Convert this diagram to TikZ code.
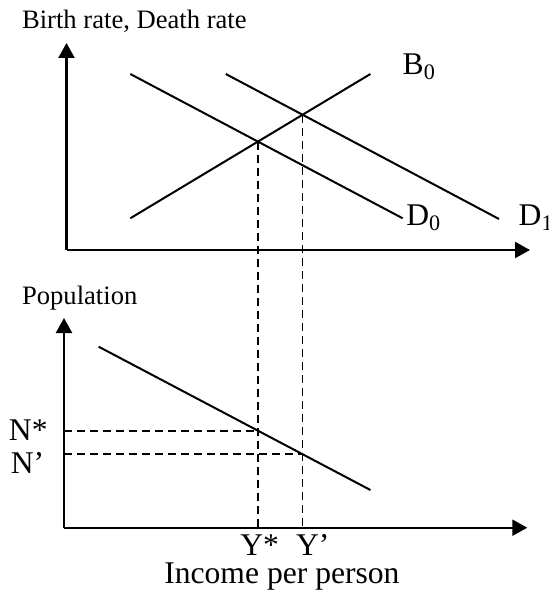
\documentclass[tikz,border=0pt]{standalone}
\usepackage{fontspec}
\setmainfont{Liberation Serif}
\usetikzlibrary{arrows.meta,positioning}

\tikzset{
  axis/.style={line width=1.1pt,-{Triangle[length=7.5pt,width=8pt]}},
  curve/.style={line width=1pt},
  guide/.style={line width=0.9pt,dash pattern=on 4pt off 2.5pt},
  titlelabel/.style={font=\fontsize{13.3}{16}\selectfont,inner sep=0pt},
  curvelabel/.style={font=\fontsize{15.8}{19}\selectfont,inner sep=0pt}
}

\begin{document}
\begin{tikzpicture}[x=0.5pt,y=-0.5pt]
\useasboundingbox (0,0) rectangle (549,592);

% upper panel: birth and death rates
\coordinate (uo) at (66.5,250);
\coordinate (utop) at (66.5,43);
\coordinate (uright) at (530,250);
\draw[axis] (uo) -- (utop);
\draw[axis] (uo) -- (uright);
\node[titlelabel,anchor=base west] (rates) at (21.7,28.5) {Birth rate, Death rate};

\coordinate (d0a) at (130.3,74);
\coordinate (d0b) at (402.7,218.3);
\coordinate (d1a) at (225.8,74);
\coordinate (d1b) at (499,219);
\coordinate (b0a) at (130.3,218.3);
\coordinate (b0b) at (370.4,74);
\draw[curve] (d0a) -- (d0b);
\draw[curve] (d1a) -- (d1b);
\draw[curve] (b0a) -- (b0b);
\node[curvelabel,anchor=base west] (blab) at (402.3,74.5) {B\textsubscript{0}};
\node[curvelabel,anchor=base west] (d0lab) at (406,226) {D\textsubscript{0}};
\node[curvelabel,anchor=base west] (d1lab) at (518.3,226) {D\textsubscript{1}};

\coordinate (eq0) at (intersection of d0a--d0b and b0a--b0b);
\coordinate (eq1) at (intersection of d1a--d1b and b0a--b0b);

% lower panel: population
\coordinate (lo) at (64,527.7);
\coordinate (ltop) at (64,318);
\coordinate (lright) at (527.3,527.7);
\draw[axis] (lo) -- (ltop);
\draw[axis] (lo) -- (lright);
\node[titlelabel,anchor=base west] (poplab) at (21.7,305) {Population};

\coordinate (pa) at (98.7,346.7);
\coordinate (pb) at (370.4,490);
\draw[curve] (pa) -- (pb);

\coordinate (y0) at (eq0 |- lo);
\coordinate (y1) at (eq1 |- lo);
\coordinate (n0pt) at (intersection of pa--pb and eq0--y0);
\coordinate (n1pt) at (intersection of pa--pb and eq1--y1);

\draw[guide] (eq0) -- (y0);
\draw[guide] (eq1) -- (y1);
\draw[guide] (n0pt -| lo) -- (n0pt);
\draw[guide] (n1pt -| lo) -- (n1pt);

\node[curvelabel,anchor=base] (nstar) at (28.3,440.7) {N*};
\node[curvelabel,anchor=base] (nprime) at (27.5,473.3) {N’};
\node[curvelabel,anchor=base west] (ystar) at (240,555) {Y*};
\node[curvelabel,anchor=base west] (yprime) at (295.7,555) {Y’};
\node[curvelabel,anchor=base] (income) at (281.9,583) {Income per person};
\end{tikzpicture}
\end{document}
